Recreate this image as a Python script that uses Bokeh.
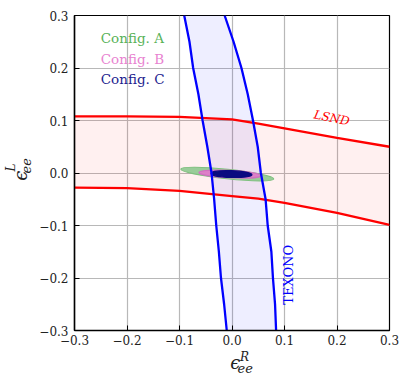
from bokeh.plotting import figure
from bokeh.layouts import gridplot
from bokeh.models import (Range1d, FixedTicker, CustomJSTickFormatter,
                          ColumnDataSource)
from bokeh.core.properties import value
from bokeh.embed import file_html
from bokeh.resources import INLINE

# ---- data ----
x_ticks = [-0.3, -0.2, -0.1, 0.0, 0.1, 0.2, 0.3]
y_ticks = [-0.3, -0.2, -0.1, 0.0, 0.1, 0.2, 0.3]

lsnd_x = [-0.3, -0.2, -0.1, 0.0, 0.05, 0.1, 0.2, 0.3]
lsnd_upper = [0.108, 0.108, 0.107, 0.102, 0.094, 0.085, 0.067, 0.050]
lsnd_lower = [-0.028, -0.029, -0.034, -0.044, -0.049, -0.057, -0.076, -0.099]

texono_y = [0.3, 0.25, 0.2, 0.15, 0.1, 0.05, 0.0, -0.05, -0.1, -0.15, -0.2, -0.25, -0.3]
texono_left = [-0.091, -0.081, -0.074, -0.064, -0.056, -0.047, -0.039, -0.034,
               -0.030, -0.025, -0.021, -0.015, -0.010]
texono_right = [-0.014, 0.003, 0.018, 0.030, 0.040, 0.049, 0.055, 0.064,
                0.068, 0.075, 0.078, 0.082, 0.084]

configs = ["Config. A", "Config. B", "Config. C"]
config_colors = ["#58b258", "#e883d0", "#1c1c8e"]
ell_x = [-0.009, -0.004, -0.001]
ell_y = [-0.002, -0.002, -0.002]
ell_w = [0.178, 0.118, 0.078]
ell_h = [0.018, 0.014, 0.013]
ell_angle = [-0.105, -0.05, -0.03]
ell_fill = ["#99cc99", "#dd80c8", "#0a0a80"]
ell_line = ["#80c080", "#d070c0", "#0a0a80"]

SERIF = "DejaVu Serif"

# ---- main figure ----
p = figure(frame_width=315, frame_height=315, output_backend="svg",
           toolbar_location=None, x_range=Range1d(-0.3, 0.3),
           y_range=Range1d(-0.3, 0.3),
           min_border_left=37, min_border_right=12, min_border_top=15,
           min_border_bottom=20)
p.background_fill_color = "white"
p.border_fill_color = "white"
p.outline_line_color = "black"
p.outline_line_width = 1.2

fmt = CustomJSTickFormatter(code="""
const v = Math.abs(tick) < 1e-9 ? 0 : tick;
const s = Math.abs(v).toFixed(1);
return v < 0 ? "\u2212" + s : s;
""")
for ax, ticks in ((p.xaxis[0], x_ticks), (p.yaxis[0], y_ticks)):
    ax.ticker = FixedTicker(ticks=ticks)
    ax.formatter = fmt
    ax.major_tick_in = 5
    ax.major_tick_out = 0
    ax.minor_tick_line_color = None
    ax.axis_line_color = "black"
    ax.axis_line_width = 1.5
    ax.major_tick_line_color = "black"
    ax.major_label_text_font = SERIF
    ax.major_label_text_font_size = "12px"
    ax.major_label_text_color = "#222222"
p.xaxis.major_label_standoff = 4
p.yaxis.major_label_standoff = 6

p.grid.grid_line_color = "#b8b8b8"
p.grid.grid_line_width = 1.2
p.xgrid.ticker = FixedTicker(ticks=x_ticks)
p.ygrid.ticker = FixedTicker(ticks=y_ticks)

# LSND band
p.patch(lsnd_x + lsnd_x[::-1], lsnd_upper + lsnd_lower[::-1],
        fill_color="red", fill_alpha=0.06, line_color=None)
# TEXONO band
p.patch(texono_left + texono_right[::-1], texono_y + texono_y[::-1],
        fill_color="blue", fill_alpha=0.065, line_color=None)

# ellipses
src = ColumnDataSource(dict(x=ell_x, y=ell_y, w=ell_w, h=ell_h, a=ell_angle,
                            f=ell_fill, l=ell_line))
p.ellipse(x="x", y="y", width="w", height="h", angle="a", source=src,
          fill_color="f", line_color="l", line_width=1.2)

# boundary lines
p.line(lsnd_x, lsnd_upper, line_color="red", line_width=2.3)
p.line(lsnd_x, lsnd_lower, line_color="red", line_width=2.3)
p.line(texono_left, texono_y, line_color="blue", line_width=2.3)
p.line(texono_right, texono_y, line_color="blue", line_width=2.3)

# legend texts
p.text(x=[-0.25] * 3, y=[0.257, 0.218, 0.180], text=configs,
       text_color=config_colors, text_font=value(SERIF),
       text_font_size="13.5px", text_align="left", text_baseline="middle")

p.text(x=[0.19], y=[0.105], text=["LSND"], text_color="red",
       text_font=value(SERIF), text_font_style="italic",
       text_font_size="12px", text_align="center", text_baseline="middle",
       angle=-0.2)
p.text(x=[0.107], y=[-0.194], text=["TEXONO"], text_color="blue",
       text_font=value(SERIF), text_font_size="13px",
       text_align="center", text_baseline="middle", angle=1.5708)


# ---- label strips (pixel coordinates of the page) ----
def strip(w, h, xr, yr):
    f = figure(width=w, height=h, output_backend="svg", toolbar_location=None,
               x_range=Range1d(*xr), y_range=Range1d(*yr),
               x_axis_type=None, y_axis_type=None, min_border=0)
    f.outline_line_color = None
    f.grid.visible = False
    f.background_fill_color = "white"
    f.border_fill_color = "white"
    return f


def lab(f, x, y, t, size, angle=0.0):
    f.text(x=[x], y=[y], text=[t], text_font=value(SERIF),
           text_font_style="italic", text_font_size=size,
           text_align="center", text_baseline="middle",
           text_color="#222222", angle=angle)


yfig = strip(36, 350, (0, 36), (350, 0))
lab(yfig, 20, 178, "ϵ", "18px", 1.5708)
lab(yfig, 10, 169, "L", "12px", 1.5708)
lab(yfig, 25.5, 167, "ee", "13px", 1.5708)

xfig = strip(364, 35, (36, 400), (385, 350))
lab(xfig, 222.5, 362, "ϵ", "18px")
lab(xfig, 233, 356, "R", "12px")
lab(xfig, 234, 367, "ee", "13px")

layout = gridplot([[yfig, p], [None, xfig]], toolbar_location=None)

open("out.html", "w").write(file_html(layout, INLINE))
